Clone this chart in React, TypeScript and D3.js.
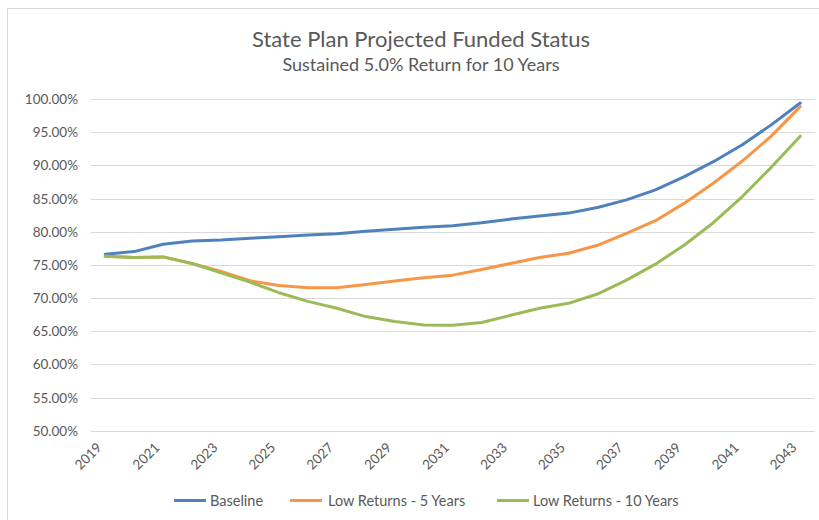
import React from "react";
import * as d3 from "d3";

const years = [2019,2020,2021,2022,2023,2024,2025,2026,2027,2028,2029,2030,2031,2032,2033,2034,2035,2036,2037,2038,2039,2040,2041,2042,2043];
const baseline = [76.6,77.0,78.1,78.6,78.75,79.0,79.25,79.5,79.7,80.05,80.35,80.65,80.9,81.35,81.9,82.35,82.8,83.65,84.8,86.3,88.3,90.55,93.1,96.1,99.4];
const low5 = [76.3,76.1,76.2,75.2,74.0,72.6,71.9,71.55,71.55,72.05,72.55,73.05,73.45,74.3,75.2,76.1,76.75,77.95,79.75,81.65,84.3,87.3,90.65,94.4,98.85];
const low10 = [76.3,76.1,76.2,75.2,73.8,72.4,70.8,69.5,68.45,67.2,66.45,65.95,65.9,66.3,67.4,68.45,69.2,70.6,72.7,75.1,78.0,81.35,85.3,89.7,94.4];
const yTicks = [50,55,60,65,70,75,80,85,90,95,100];
const xLabelYears = [2019,2021,2023,2025,2027,2029,2031,2033,2035,2037,2039,2041,2043];
const seriesNames = ["Baseline","Low Returns - 5 Years","Low Returns - 10 Years"];
const seriesColors = ["#4F81BD","#F79646","#9BBB59"];

export default function App() {
  const W = 819, H = 520;
  const plotLeft = 90.7, plotRight = 814.7;
  const x = d3.scaleBand<number>().domain(years).range([plotLeft, plotRight]);
  const xc = (yr: number) => (x(yr) as number) + x.bandwidth() / 2;
  const y = d3.scaleLinear().domain([50, 100]).range([430.7, 99]);
  const series = [baseline, low5, low10];
  const line = d3.line<number>().x((_, i) => xc(years[i])).y(v => y(v));
  const font = "Lato, 'Open Sans', sans-serif";
  const textColor = "#595959";
  const legendItems = [
    { lx: 174, tx: 210 },
    { lx: 290, tx: 328 },
    { lx: 497, tx: 533 },
  ];
  return (
    <svg width={W} height={H} style={{ position: "absolute", left: 0, top: 0, background: "#fff" }} fontFamily={font}>
      <rect x={7.5} y={8.5} width={W + 20} height={H + 20} fill="#fff" stroke="#d9d9d9" strokeWidth={1} />
      <text x={421} y={47} textAnchor="middle" fontSize={22} fill={textColor}>State Plan Projected Funded Status</text>
      <text x={421} y={71} textAnchor="middle" fontSize={18} fill={textColor}>Sustained 5.0% Return for 10 Years</text>
      {yTicks.map(t => (
        <g key={t}>
          <line x1={plotLeft} x2={plotRight} y1={Math.round(y(t)) + 0.5} y2={Math.round(y(t)) + 0.5} stroke="#d9d9d9" strokeWidth={1} />
          <text x={78} y={y(t) + 5} textAnchor="end" fontSize={13.5} fill={textColor}>{t.toFixed(2)}%</text>
        </g>
      ))}
      {xLabelYears.map(yr => (
        <text key={yr} transform={`translate(${xc(yr) - 5},${446}) rotate(-45)`} textAnchor="end" fontSize={13.5} fill={textColor} dominantBaseline="middle">{yr}</text>
      ))}
      {series.map((s, i) => (
        <path key={i} d={line(s) as string} fill="none" stroke={seriesColors[i]} strokeWidth={3} strokeLinejoin="round" strokeLinecap="round" />
      ))}
      {seriesNames.map((n, i) => (
        <g key={n}>
          <line x1={legendItems[i].lx} x2={legendItems[i].lx + 32} y1={500.5} y2={500.5} stroke={seriesColors[i]} strokeWidth={3} />
          <text x={legendItems[i].tx} y={505.5} fontSize={14.5} fill={textColor}>{n}</text>
        </g>
      ))}
    </svg>
  );
}
